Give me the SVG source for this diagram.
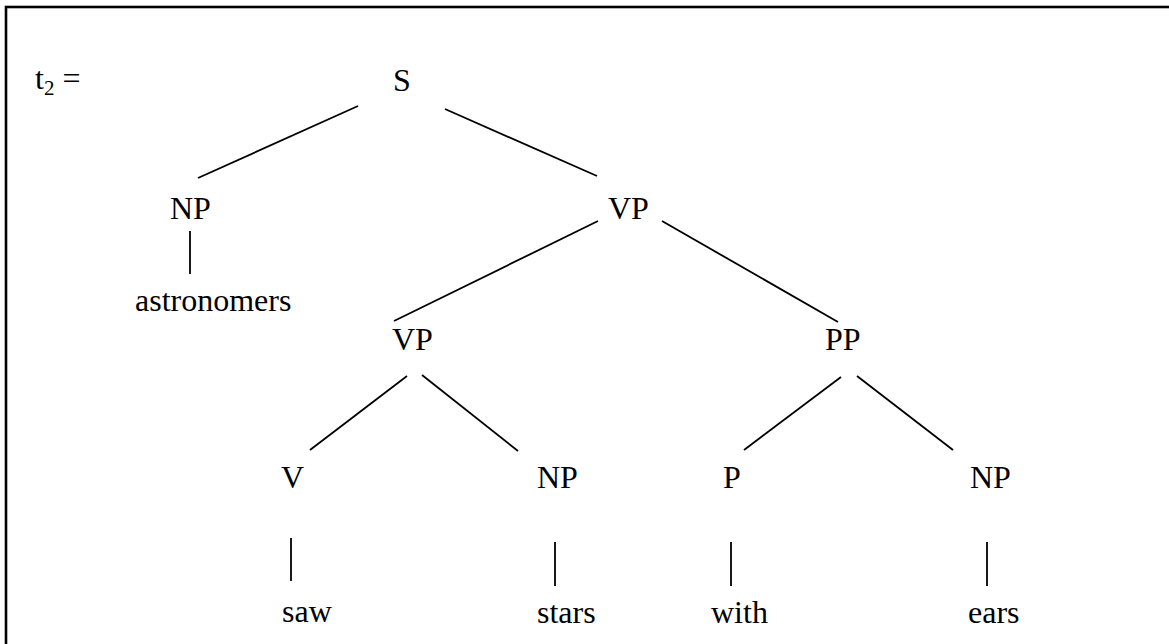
<svg xmlns="http://www.w3.org/2000/svg" width="1169" height="644" viewBox="0 0 1169 644">
<style>
text { font-family: "Liberation Serif", "Times New Roman", serif; font-size: 32px; fill: #000; }
.sub { font-size: 21px; }
line { stroke: #000; stroke-width: 1.8; }
</style>
<rect x="0" y="0" width="1169" height="644" fill="#fff"/>
<rect x="6" y="7" width="1200" height="700" fill="none" stroke="#000" stroke-width="2.6"/>
<text x="35" y="89">t<tspan class="sub" dy="6">2</tspan><tspan dy="-6"> =</tspan></text>
<g id="connectors">
  <line x1="358" y1="106" x2="198" y2="178"/>
  <line x1="445" y1="109" x2="597" y2="176"/>
  <line x1="190" y1="231" x2="190" y2="274"/>
  <line x1="598" y1="221" x2="394" y2="321"/>
  <line x1="662" y1="221" x2="838" y2="322"/>
  <line x1="407" y1="376" x2="310" y2="450"/>
  <line x1="422" y1="375" x2="518" y2="451"/>
  <line x1="841" y1="377" x2="744" y2="450"/>
  <line x1="857" y1="376" x2="953" y2="450"/>
  <line x1="291" y1="538" x2="291" y2="581"/>
  <line x1="555" y1="542" x2="555" y2="586"/>
  <line x1="731" y1="542" x2="731" y2="586"/>
  <line x1="987" y1="542" x2="987" y2="586"/>
</g>
<g id="n-S"><text x="393" y="91">S</text></g>
<g id="n-NP1"><text x="170" y="219">NP</text></g>
<g id="n-VP1"><text x="608" y="219">VP</text></g>
<g id="n-astronomers"><text x="135" y="311">astronomers</text></g>
<g id="n-VP2"><text x="392" y="350">VP</text></g>
<g id="n-PP"><text x="825" y="350">PP</text></g>
<g id="n-V"><text x="281" y="488">V</text></g>
<g id="n-NP2"><text x="537" y="488">NP</text></g>
<g id="n-P"><text x="723" y="488">P</text></g>
<g id="n-NP3"><text x="970" y="488">NP</text></g>
<g id="n-saw"><text x="282" y="622">saw</text></g>
<g id="n-stars"><text x="537" y="623">stars</text></g>
<g id="n-with"><text x="711" y="623">with</text></g>
<g id="n-ears"><text x="968" y="623">ears</text></g>
</svg>
